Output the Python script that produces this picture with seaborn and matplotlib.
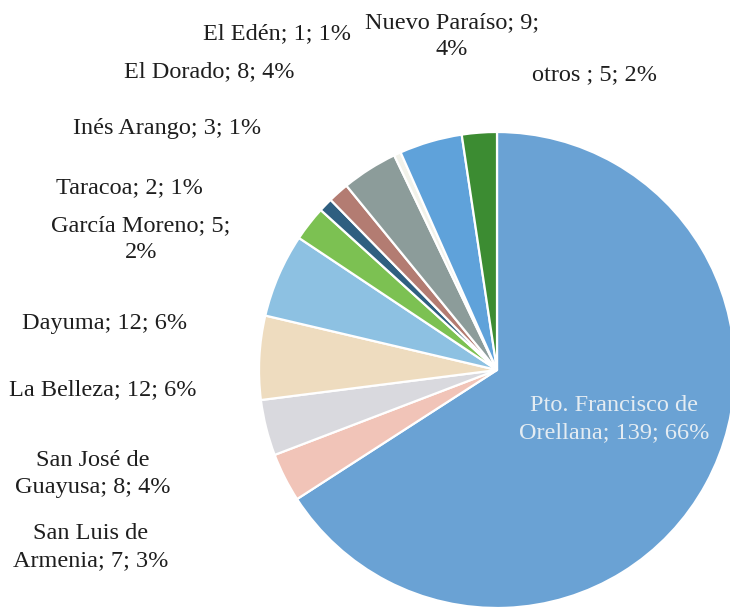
import matplotlib
matplotlib.use("Agg")
import matplotlib.pyplot as plt
import seaborn as sns

# parishes, in the order the slices run clockwise from 12 o'clock
parishes = [
    "Pto. Francisco de\nOrellana", "San Luis de\nArmenia", "San José de\nGuayusa",
    "La Belleza", "Dayuma", "García Moreno", "Taracoa", "Inés Arango",
    "El Dorado", "El Edén", "Nuevo Paraíso", "otros ",
]
counts = [139, 7, 8, 12, 12, 5, 2, 3, 8, 1, 9, 5]
percents = [66, 3, 4, 6, 6, 2, 1, 1, 4, 1, 4, 2]
slice_colors = [
    "#6aa2d4", "#f1c4b8", "#d9d9de", "#eedcbf", "#8dc1e2", "#7cc152",
    "#2f5f80", "#b37c72", "#8c9c9a", "#f2f2ea", "#5fa2da", "#3c8c32",
]

# label text layout (centre of each label, in pixels of the 730x610 image)
label_text = [
    "Pto. Francisco de\nOrellana; 139; 66%", "San Luis de\nArmenia; 7; 3%",
    "San José de\nGuayusa; 8; 4%", "La Belleza; 12; 6%", "Dayuma; 12; 6%",
    "García Moreno; 5;\n2%", "Taracoa; 2; 1%", "Inés Arango; 3; 1%",
    "El Dorado; 8; 4%", "El Edén; 1; 1%", "Nuevo Paraíso; 9;\n4%", "otros ; 5; 2%",
]
label_px = [
    (614, 419), (91, 547), (93, 474), (103, 390), (105, 323), (141, 239),
    (129, 188), (167, 128), (209, 72), (277, 34), (452, 36), (594, 75),
]

W, H = 730, 610
CX, CY, R = 497, 370, 238

sns.set_style("white")
plt.rcParams["font.family"] = ["Liberation Serif", "DejaVu Serif"]

fig = plt.figure(figsize=(W / 100, H / 100), dpi=100)
ax = fig.add_axes([(CX - R) / W, (H - CY - R) / H, 2 * R / W, 2 * R / H])

palette = sns.color_palette(slice_colors)
ax.pie(counts, colors=palette, startangle=90, counterclock=False, radius=1,
       wedgeprops=dict(edgecolor="white", linewidth=1.6), frame=False)
ax.set_xlim(-1, 1)
ax.set_ylim(-1, 1)
ax.set_aspect("equal")
ax.axis("off")

for i, (txt, (px, py)) in enumerate(zip(label_text, label_px)):
    x = (px - CX) / R
    y = (CY - py) / R
    color = "#e4ecf2" if i == 0 else "#1e1e1e"
    ax.text(x, y, txt, ha="center", va="center", fontsize=17.5,
            color=color, linespacing=1.4, clip_on=False)

fig.savefig("out.png", dpi=100, facecolor="white")
